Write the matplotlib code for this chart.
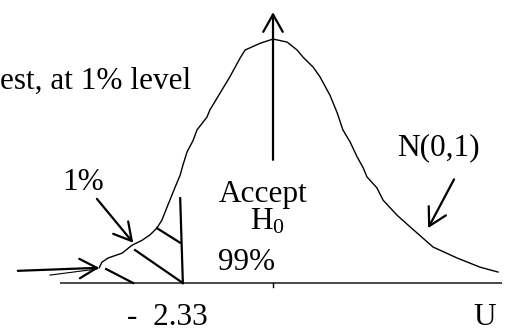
import matplotlib
matplotlib.use("Agg")
import matplotlib.pyplot as plt

plt.rcParams['font.family'] = ['Liberation Serif', 'DejaVu Serif']
plt.rcParams['mathtext.default'] = 'regular'

# Hand-drawn N(0,1) density curve (U, density)
curve_u = [-4.55, -4.48, -4.32, -3.95, -3.69, -3.43, -3.22, -3.04, -2.91, -2.77,
           -2.57, -2.43, -2.36, -2.25, -2.09, -1.99, -1.73, -1.65, -1.39, -1.13,
           -0.86, -0.73, -0.34, 0.00, 0.37, 0.63, 0.79, 1.05, 1.23, 1.49, 1.68,
           1.83, 2.02, 2.20, 2.36, 2.46, 2.72, 2.88, 3.25, 3.59, 4.19, 4.82,
           5.42, 5.89]
curve_f = [0.025, 0.034, 0.041, 0.049, 0.062, 0.070, 0.079, 0.090, 0.103, 0.125,
           0.156, 0.177, 0.193, 0.215, 0.234, 0.251, 0.272, 0.284, 0.311, 0.338,
           0.369, 0.382, 0.393, 0.400, 0.395, 0.382, 0.370, 0.354, 0.338, 0.308,
           0.279, 0.251, 0.231, 0.207, 0.189, 0.174, 0.156, 0.136, 0.111, 0.092,
           0.059, 0.041, 0.026, 0.018]

critical_value = -2.33
axis_range = [-5.58, 5.99]

# rejection-region hatch strokes (u0, f0, u1, f1)
hatch_u0 = [-4.37, -3.61, -3.04, -2.43]
hatch_f0 = [0.023, 0.054, 0.090, 0.139]
hatch_u1 = [-3.66, -2.36, -2.43, -2.36]
hatch_f1 = [0.000, 0.000, 0.066, 0.000]

fig = plt.figure(figsize=(5.1, 3.3), dpi=100)
ax = fig.add_axes([0, 0, 1, 1])
ax.set_xlim(-7.147, 6.204)
ax.set_ylim(-0.077, 0.464)
ax.axis('off')

# horizontal axis
ax.plot(axis_range, [0, 0], color='#3a3a3a', lw=1.3, solid_capstyle='butt')
ax.plot([0, 0], [0, -0.007], color='black', lw=1.0)

# curve
ax.plot(curve_u, curve_f, color='black', lw=1.0)

# hatching
for u0, f0, u1, f1 in zip(hatch_u0, hatch_f0, hatch_u1, hatch_f1):
    ax.plot([u0, u1], [f0, f1], color='black', lw=1.6)

def arrow(start, end, lw=1.6):
    ax.annotate('', xy=end, xytext=start,
                arrowprops=dict(arrowstyle='->,head_length=1.25,head_width=0.7',
                                mutation_scale=10, lw=lw, color='black',
                                shrinkA=0, shrinkB=0))

# central arrow
arrow((0, 0.202), (0, 0.444))
# 1% arrow
arrow((-4.61, 0.138), (-3.66, 0.066))
# horizontal arrow into tail
arrow((-6.68, 0.020), (-4.55, 0.025))
ax.plot([-5.84, -4.61], [0.013, 0.023], color='black', lw=0.8)
# N(0,1) arrow
arrow((4.74, 0.170), (4.06, 0.090))

fs = 22.5
ax.text(-7.147, 0.318, 'est, at 1% level', fontsize=fs, ha='left', va='baseline')
ax.text(3.25, 0.210, 'N(0,1)', fontsize=fs, ha='left', va='baseline')
ax.text(-5.52, 0.152, '1%', fontsize=fs, ha='left', va='baseline')
ax.text(-0.25, 0.133, 'Accept', fontsize=fs, ha='center', va='baseline')
ax.text(-0.60, 0.087, 'H$_0$', fontsize=fs, ha='left', va='baseline')
ax.text(-1.44, 0.021, '99%', fontsize=fs, ha='left', va='baseline')
ax.text(-3.82, -0.068, '-  ' + f'{abs(critical_value):.2f}', fontsize=fs, ha='left', va='baseline')
ax.text(5.24, -0.068, 'U', fontsize=fs, ha='left', va='baseline')

fig.savefig('out.png', dpi=100)
